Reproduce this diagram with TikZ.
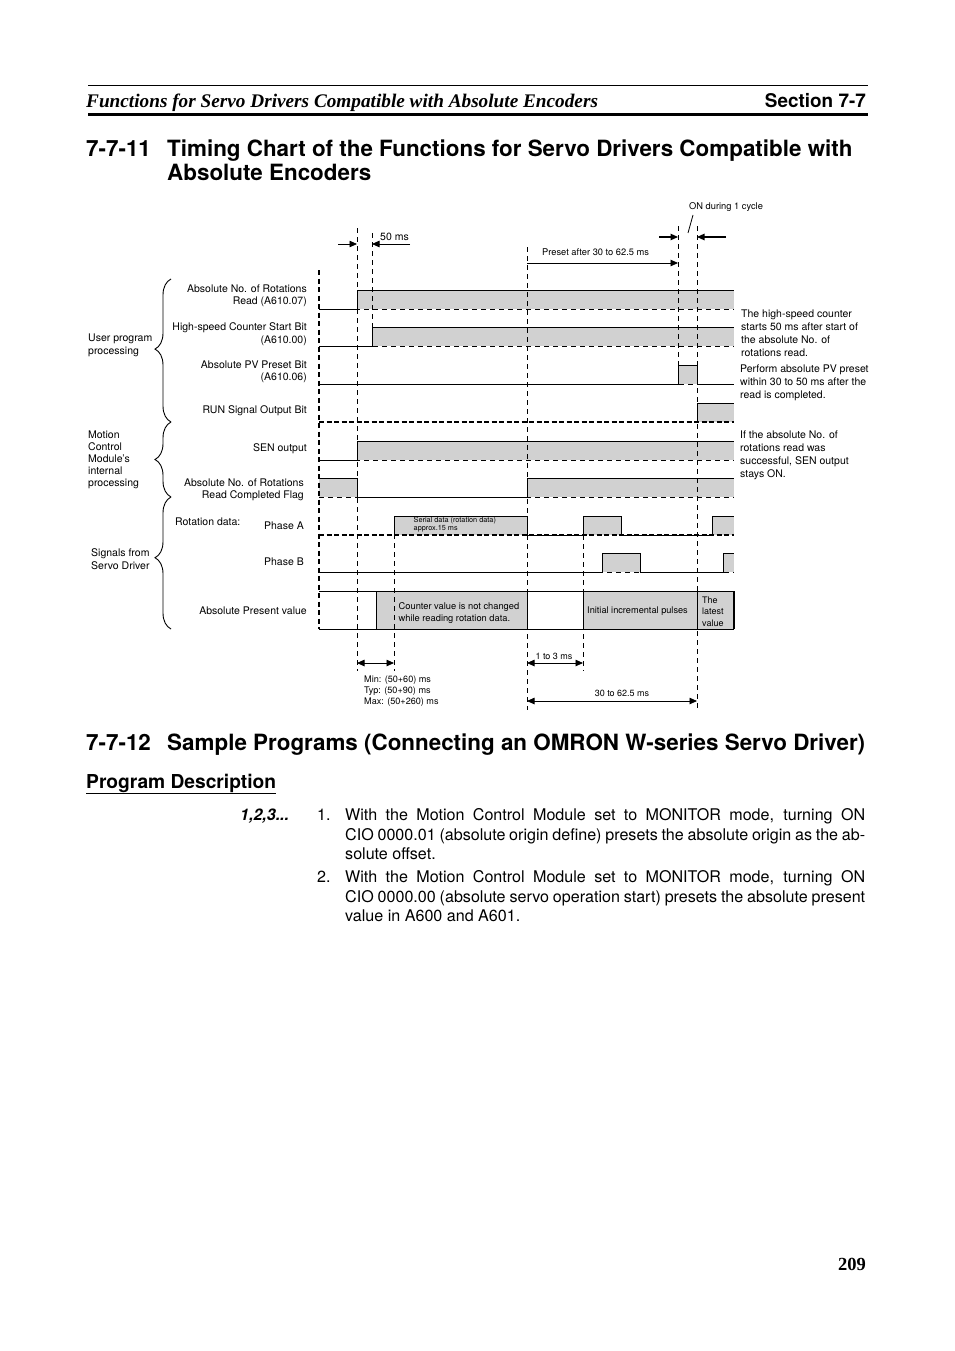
\documentclass[tikz,border=0pt]{standalone}
\usepackage{fontspec}
\setmainfont{TeX Gyre Heros}
\newfontfamily\headserif{Liberation Serif}
\usetikzlibrary{arrows.meta}
\usetikzlibrary{decorations.pathreplacing}
\definecolor{pulsegray}{gray}{0.82}
\tikzset{label/.style={inner sep=0pt,font=\fontsize{10.5}{12.5}\selectfont},
         note/.style={label,align=left,anchor=west,font=\fontsize{10.5}{13}\selectfont},
         sigleft/.style={label,align=right,anchor=east},
         title/.style={inner sep=0pt,anchor=base west,font=\fontsize{22.4}{24}\selectfont\bfseries},
         bodytext/.style={inner sep=0pt,anchor=north west,font=\fontsize{16.1}{19.6}\selectfont},
         grid/.style={line width=0.7pt,dash pattern=on 5pt off 4pt},
         wave/.style={line width=1pt,line join=miter},
         dim/.style={line width=0.8pt,-{Triangle[length=7.5pt,width=6.5pt]}},
         both/.style={line width=0.8pt,{Triangle[length=7.5pt,width=6.5pt]}-{Triangle[length=7.5pt,width=6.5pt]}},
         curly/.style={line width=0.9pt,decorate},
         }
\begin{document}
\begin{tikzpicture}[x=1pt,y=-1pt]
\useasboundingbox (0,0) rectangle (954,1351);
\fill[white] (0,0) rectangle (954,1351);

% page header
\coordinate (headl) at (88,85);
\coordinate (headr) at (868,85);
\coordinate (rulel) at (88,114.5);
\coordinate (ruler) at (868,114.5);
\draw[line width=0.7pt] (headl) -- (headr);
\draw[line width=3pt] (rulel) -- (ruler);
\node[inner sep=0pt,anchor=base west,font=\fontsize{19.25}{24}\headserif\bfseries\itshape] (headtitle) at (86,107.5)
    {Functions for Servo Drivers Compatible with Absolute Encoders};
\node[inner sep=0pt,anchor=base east,font=\fontsize{18.9}{24}\selectfont\bfseries] (headsec) at (866,107.5) {Section 7-7};

% headings
\node[title] (numa) at (86,157) {7-7-11};
\node[title] (titlea) at (167,157) {Timing Chart of the Functions for Servo Drivers Compatible with};
\node[title] (titleb) at (167,181) {Absolute Encoders};
\node[title] (numb) at (86,750.5) {7-7-12};
\node[title] (titlec) at (167,750.5) {Sample Programs (Connecting an OMRON W-series Servo Driver)};
\node[inner sep=0pt,anchor=base west,font=\fontsize{19.2}{24}\selectfont\bfseries] (progdesc) at (86,788) {\underline{Program Description}};

% body
\node[inner sep=0pt,anchor=base west,font=\fontsize{16}{18}\selectfont\bfseries\itshape] (steps) at (240,820) {1,2,3...};
\node[bodytext,anchor=base west] (onum) at (317,820) {1.};
\node[bodytext,text width=520pt,align=justify,anchor=north west] (one) at (345,808.5)
    {With the Motion Control Module set to MONITOR mode, turning ON\linebreak
     CIO 0000.01 (absolute origin define) presets the absolute origin as the ab-\linebreak
     solute offset.};
\node[bodytext,anchor=base west] (tnum) at (317,882.5) {2.};
\node[bodytext,text width=520pt,align=justify,anchor=north west] (two) at (345,870.5)
    {With the Motion Control Module set to MONITOR mode, turning ON\linebreak
     CIO 0000.00 (absolute servo operation start) presets the absolute present\linebreak
     value in A600 and A601.};
\node[inner sep=0pt,anchor=base east,font=\fontsize{18.5}{24}\headserif\bfseries] (pageno) at (866,1270) {209};

% pulses
\fill[pulsegray] (357,290) rectangle (734,309);
\fill[pulsegray] (372,327) rectangle (734,346);
\fill[pulsegray] (678,365) rectangle (697,384);
\fill[pulsegray] (697,403) rectangle (734,422);
\fill[pulsegray] (357,441) rectangle (734,460);
\fill[pulsegray] (319,478) rectangle (357,497);
\fill[pulsegray] (527,478) rectangle (734,497);
\fill[pulsegray] (394,516) rectangle (527,535);
\fill[pulsegray] (583,516) rectangle (621,535);
\fill[pulsegray] (712,516) rectangle (734,535);
\fill[pulsegray] (602,553) rectangle (640,572);
\fill[pulsegray] (723,553) rectangle (734,572);
\fill[pulsegray] (376,591) rectangle (527,629);
\fill[pulsegray] (583,591) rectangle (734,629);

% dashed time marks
\coordinate (ta) at (357,228);
\coordinate (tb) at (372,233);
\coordinate (tc) at (527,247);
\coordinate (td) at (678,226);
\coordinate (te) at (697,226);
\coordinate (tf) at (394,516);
\coordinate (tg) at (583,535);
\coordinate (lefttop) at (319,270);
\draw[grid] (ta) -- (357,671);
\draw[grid] (tb) -- (372,346);
\draw[grid] (tc) -- (527,710);
\draw[grid] (td) -- (678,384);
\draw[grid] (te) -- (697,708);
\draw[grid] (tf) -- (394,671);
\draw[grid] (tg) -- (583,671);
\draw[line width=1.5pt,dash pattern=on 5pt off 3.5pt] (lefttop) -- (319,629);

% dashed levels
\foreach \lev in {309,346,384,460,497,572}
    \draw[grid] (319,\lev) -- (734,\lev);
\foreach \lev in {422,535}
    \draw[line width=1.3pt,dash pattern=on 5pt off 2.5pt] (319,\lev) -- (734,\lev);

% wave forms
\draw[wave] (319,309) -- (357,309) -- (357,290) -- (734,290);
\draw[wave] (319,346) -- (372,346) -- (372,327) -- (734,327);
\draw[wave] (319,384) -- (678,384) -- (678,365) -- (697,365) -- (697,384) -- (734,384);
\draw[wave] (697,422) -- (697,403) -- (734,403);
\draw[wave] (319,460) -- (357,460) -- (357,441) -- (734,441);
\draw[wave] (319,478) -- (357,478) -- (357,497) -- (527,497) -- (527,478) -- (734,478);
\draw[wave] (394,535) -- (394,516) -- (527,516) -- (527,535) -- (583,535) -- (583,516) -- (621,516) -- (621,535) -- (712,535) -- (712,516) -- (734,516);
\draw[wave] (319,572) -- (602,572) -- (602,553) -- (640,553) -- (640,572) -- (723,572) -- (723,553) -- (734,553);
\draw[wave] (319,591) -- (734,591);
\draw[wave] (319,629) -- (734,629);
\draw[wave] (376,591) -- (376,629);
\draw[wave] (527,591) -- (527,629);
\draw[wave] (583,591) -- (583,629);
\draw[wave] (697,591) -- (697,629);
\draw[line width=1.6pt] (734,591) -- (734,629);

% time arrows
\coordinate (onea) at (338,244);
\coordinate (oneb) at (357,244);
\coordinate (twoa) at (410,244);
\coordinate (twob) at (372,244);
\coordinate (cyca) at (659,237);
\coordinate (cycb) at (678,237);
\coordinate (cycc) at (726,237);
\coordinate (cycd) at (697,237);
\coordinate (cyce) at (693,215);
\coordinate (cycf) at (688,233);
\coordinate (prea) at (527,263);
\coordinate (preb) at (678,263);
\coordinate (mina) at (357,663);
\coordinate (minb) at (394,663);
\coordinate (msa) at (527,663);
\coordinate (msb) at (583,663);
\coordinate (lona) at (527,701);
\coordinate (lonb) at (697,701);
\draw[dim] (onea) -- (oneb);
\draw[dim] (twoa) -- (twob);
\draw[dim,line width=1.1pt] (cyca) -- (cycb);
\draw[dim,line width=1.1pt] (cycc) -- (cycd);
\draw[line width=0.8pt] (cyce) -- (cycf);
\draw[dim] (prea) -- (preb);
\draw[both] (mina) -- (minb);
\draw[both] (msa) -- (msb);
\draw[both] (lona) -- (lonb);

% time labels
\node[label,anchor=west] (fiftyms) at (380,237) {50 ms};
\node[label,anchor=west,font=\fontsize{9.3}{11}\selectfont] (oncycle) at (689,207.5) {ON during 1 cycle};
\node[label,anchor=west,font=\fontsize{9.3}{11}\selectfont] (preset) at (542,252.5) {Preset after 30 to 62.5 ms};
\node[label,anchor=center,font=\fontsize{9}{11}\selectfont] (oneto) at (554,656) {1 to 3 ms};
\node[label,anchor=center,font=\fontsize{9}{11}\selectfont] (thirty) at (622,693.5) {30 to 62.5 ms};
\node[label,align=left,anchor=north west,font=\fontsize{9.1}{11.2}\selectfont] (minmax) at (364,675.5) {Min: (50+60) ms\\Typ: (50+90) ms\\Max: (50+260) ms};

% texts in the pulses
\node[label,align=left,anchor=west,font=\fontsize{7.3}{7.8}\selectfont] (serial) at (413.5,524.5) {Serial data (rotation data)\\approx.15 ms};
\node[label,align=left,anchor=west,font=\fontsize{9.3}{12}\selectfont] (counter) at (398.5,613) {Counter value is not changed\\while reading rotation data.};
\node[label,anchor=west,font=\fontsize{9.2}{12}\selectfont] (initial) at (587,611) {Initial incremental pulses};
\node[label,align=left,anchor=west,font=\fontsize{9}{11.5}\selectfont] (latest) at (702,611.5) {The\\latest\\value};

% signal names
\node[sigleft] (absread) at (307,296) {Absolute No. of Rotations\hspace{3pt}\\Read (A610.07)};
\node[sigleft] (hscount) at (307,334) {High-speed Counter Start Bit\\(A610.00)};
\node[sigleft] (pvpreset) at (307,372) {Absolute PV Preset Bit\\(A610.06)};
\node[sigleft] (runout) at (307,411) {RUN Signal Output Bit};
\node[sigleft] (senout) at (307,449) {SEN output};
\node[sigleft] (absdone) at (304,490) {Absolute No. of Rotations\\Read Completed Flag};
\node[sigleft] (phasea) at (304,526) {Phase A};
\node[sigleft] (phaseb) at (304,562) {Phase B};
\node[sigleft] (abspv) at (307,611) {Absolute Present value};
\node[label,anchor=west] (rotdata) at (175,522) {Rotation data:};

% groups
\coordinate (bra) at (171,279);
\coordinate (brb) at (171,422);
\coordinate (brc) at (171,497);
\coordinate (brd) at (171,629);
\draw[curly,decoration={brace,amplitude=16pt,aspect=0.51}] (brb) -- (bra);
\draw[curly,decoration={brace,amplitude=16pt,aspect=0.5}] (brc) -- (brb);
\draw[curly,decoration={brace,amplitude=16pt,aspect=0.54}] (brd) -- (brc);
\node[note] (userprog) at (88,345) {User program\\processing};
\node[note,font=\fontsize{10.5}{12}\selectfont] (motion) at (88,459.5) {Motion\\Control\\Module's\\internal\\processing};
\node[note] (signals) at (91,559.5) {Signals from\\Servo Driver};

% notes on the right
\node[note] (notehigh) at (741,333.5) {The high-speed counter\\starts 50 ms after start of\\the absolute No. of\\rotations read.};
\node[note] (noteperf) at (740,382.5) {Perform absolute PV preset\\within 30 to 50 ms after the\\read is completed.};
\node[note] (notesen) at (740,455) {If the absolute No. of\\rotations read was\\successful, SEN output\\stays ON.};
\end{tikzpicture}
\end{document}
